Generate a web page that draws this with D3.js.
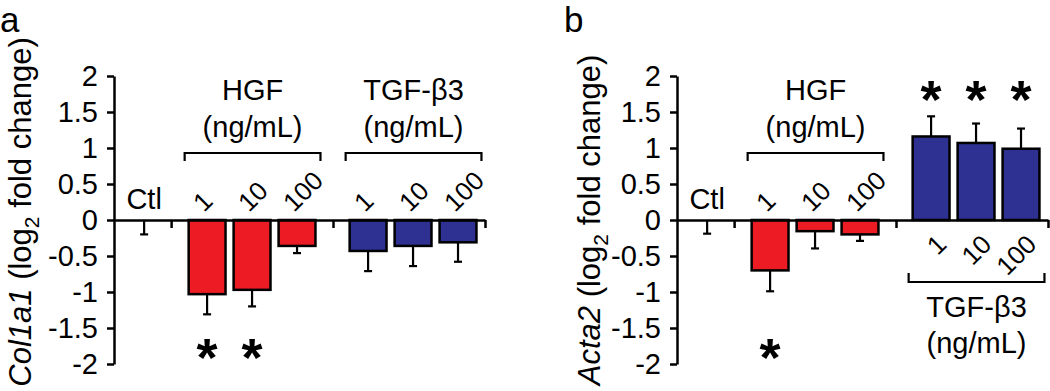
<!DOCTYPE html>
<html>
<head>
<meta charset="utf-8">
<style>
  body { margin: 0; background: #fff; }
  svg text { font-family: "Liberation Sans", Arial, sans-serif; fill: #000; }
  .yAxis .domain, .yAxis .tick line, .xAxis .domain, .xAxis .tick line {
    stroke: #000;
    stroke-width: 2.5px;
  }
</style>
</head>
<body>
<div class="chart"></div>
<script src="https://d3js.org/d3.v7.min.js"></script>
<script>
  // categories
  const groupNames = ['Ctl', 'HGF', 'TGF-β3'];
  const groupSizes = [1, 3, 3];
  const barGroup = [0, 1, 1, 1, 2, 2, 2];
  const barLabels = ['Ctl', '1', '10', '100', '1', '10', '100'];
  const yTicks = [-2, -1.5, -1, -0.5, 0, 0.5, 1, 1.5, 2];

  // panel a : Col1a1
  const col1a1Mean = [0, -1.03, -0.97, -0.36, -0.43, -0.36, -0.31];
  const col1a1Err  = [0.20, 0.28, 0.23, 0.10, 0.28, 0.28, 0.27];
  const col1a1Sig  = [false, true, true, false, false, false, false];

  // panel b : Acta2
  const acta2Mean = [0, -0.70, -0.155, -0.20, 1.16, 1.07, 0.99];
  const acta2Err  = [0.19, 0.29, 0.24, 0.09, 0.28, 0.27, 0.28];
  const acta2Sig  = [false, true, false, false, true, true, true];

  const svg = d3.select('.chart').append('svg')
    .attr('width', 1050).attr('height', 391);

  const groupColor = ['#000', '#ED1C24', '#2E3192'];
  // padding of each group, in bar slots (left, right)
  const groupPad = [[0.17, 0.1], [0.3, 0.3], [0.28, 0.1]];

  const y = d3.scaleLinear().domain([-2, 2]).range([364, 76]);

  function drawPanel(opt) {
    const g = svg.append('g');
    const totalUnits = d3.sum(groupSizes) + d3.sum(groupPad, p => p[0] + p[1]);
    const x = d3.scaleLinear().domain([0, totalUnits]).range([opt.axisX, opt.axisX + 371]);

    // slot units of bars and group bounds
    const centers = [], bounds = [];
    let u = 0;
    groupSizes.forEach((n, gi) => {
      const start = u;
      u += groupPad[gi][0];
      for (let k = 0; k < n; k++) { centers.push(u + 0.5); u += 1; }
      u += groupPad[gi][1];
      bounds.push([start, u]);
    });
    const barW = x(0.82) - x(0);

    // panel letter
    g.append('text').attr('x', opt.letterX).attr('y', 32)
      .attr('font-size', 35).text(opt.letter);

    // y title
    const t = g.append('text')
      .attr('transform', `translate(${opt.titleX},${opt.titleY}) rotate(-90)`)
      .attr('text-anchor', 'middle').attr('font-size', 31);
    t.append('tspan').attr('font-style', 'italic').text(opt.gene);
    t.append('tspan').text(' (log');
    t.append('tspan').attr('font-size', 21).attr('dy', 8).text('2');
    t.append('tspan').attr('dy', -8).text(' fold change)');

    // bars
    const data = opt.mean.map((m, i) => ({ m, e: opt.err[i], s: opt.sig[i], i }));
    g.append('g').selectAll('rect')
      .data(data.filter(d => d.m !== 0))
      .join('rect')
      .attr('x', d => x(centers[d.i]) - barW / 2)
      .attr('width', barW)
      .attr('y', d => y(Math.max(0, d.m)))
      .attr('height', d => Math.abs(y(d.m) - y(0)))
      .attr('fill', d => groupColor[barGroup[d.i]])
      .attr('stroke', '#000').attr('stroke-width', 2.5);

    // error bars (away from zero)
    const eb = g.append('g').attr('stroke', '#000').attr('stroke-width', 2.2);
    data.forEach(d => {
      const cx = x(centers[d.i]);
      const tip = d.m >= 0 && d.i !== 0 ? d.m + d.e : d.m - d.e;
      eb.append('line').attr('x1', cx).attr('x2', cx)
        .attr('y1', y(d.m)).attr('y2', y(tip));
      eb.append('line').attr('x1', cx - 4).attr('x2', cx + 4)
        .attr('y1', y(tip)).attr('y2', y(tip));
    });

    // y axis
    g.append('g').attr('class', 'yAxis')
      .attr('transform', `translate(${opt.axisX},0)`)
      .call(d3.axisLeft(y).tickValues(yTicks).tickSize(7).tickSizeOuter(0)
        .tickPadding(9).tickFormat(d => String(d)))
      .call(a => a.selectAll('text').attr('font-size', 29).attr('font-family', null));

    // x axis with group separators
    g.append('g').attr('class', 'xAxis')
      .attr('transform', `translate(0,${y(0)})`)
      .call(d3.axisBottom(x).tickValues(bounds.map(b => b[1])).tickSize(8)
        .tickSizeOuter(0).tickFormat(''));

    // category labels
    data.forEach(d => {
      const cx = x(centers[d.i]);
      if (d.i === 0) {
        g.append('text').attr('x', cx).attr('y', 209)
          .attr('text-anchor', 'middle').attr('font-size', 29).text(barLabels[0]);
      } else if (opt.below && barGroup[d.i] === 2) {
        g.append('text').attr('transform', `translate(${cx + 17},246) rotate(-45)`)
          .attr('text-anchor', 'end').attr('font-size', 26).text(barLabels[d.i]);
      } else {
        g.append('text').attr('transform', `translate(${cx - 3},213) rotate(-45)`)
          .attr('text-anchor', 'start').attr('font-size', 26).text(barLabels[d.i]);
      }
    });

    // group brackets and titles
    [1, 2].forEach(gi => {
      const idx = d3.range(data.length).filter(i => barGroup[i] === gi);
      const x0 = x(centers[idx[0]]) - barW / 2 - 4;
      const x1 = x(centers[idx[idx.length - 1]]) + barW / 2 + 5;
      const mid = (x0 + x1) / 2;
      const below = opt.below && gi === 2;
      const by = below ? 282 : 153;
      const leg = below ? -9 : 8;
      g.append('path')
        .attr('d', `M${x0},${by + leg}V${by}H${x1}V${by + leg}`)
        .attr('fill', 'none').attr('stroke', '#000').attr('stroke-width', 2.2);
      const ty = below ? [317, 353] : [100, 137];
      g.append('text').attr('x', mid).attr('y', ty[0]).attr('text-anchor', 'middle')
        .attr('font-size', 29).text(groupNames[gi]);
      g.append('text').attr('x', mid).attr('y', ty[1]).attr('text-anchor', 'middle')
        .attr('font-size', 29).text('(ng/mL)');
    });

    // significance stars
    g.append('g').selectAll('text')
      .data(data.filter(d => d.s))
      .join('text')
      .attr('x', d => x(centers[d.i]))
      .attr('y', d => (d.m < 0 ? y(-1.75) : y(1.83)) + 30)
      .attr('text-anchor', 'middle')
      .attr('font-size', 54).attr('font-weight', 'bold')
      .text('*');
  }

  drawPanel({ letter: 'a', letterX: 0, gene: 'Col1a1', titleX: 31, titleY: 212,
              axisX: 114, mean: col1a1Mean, err: col1a1Err, sig: col1a1Sig, below: false });
  drawPanel({ letter: 'b', letterX: 564, gene: 'Acta2', titleX: 600, titleY: 220,
              axisX: 677, mean: acta2Mean, err: acta2Err, sig: acta2Sig, below: true });
</script>
</body>
</html>
